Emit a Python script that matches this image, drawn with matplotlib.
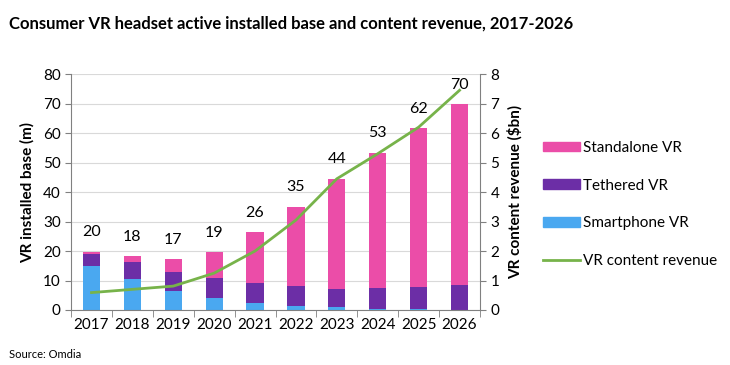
import matplotlib.pyplot as plt
import numpy as np
from matplotlib.patches import Patch
from matplotlib.lines import Line2D

plt.rcParams['font.family'] = ['Lato', 'DejaVu Sans']

years = ['2017', '2018', '2019', '2020', '2021', '2022', '2023', '2024', '2025', '2026']
smartphone = [15.0, 10.5, 6.5, 4.0, 2.5, 1.5, 1.0, 0.4, 0.3, 0.1]
tethered = [4.0, 5.8, 6.5, 7.0, 6.5, 6.5, 6.2, 7.1, 7.4, 8.4]
standalone = [0.8, 1.9, 4.3, 8.5, 17.3, 27.0, 37.3, 45.8, 54.0, 61.2]
totals = [20, 18, 17, 19, 26, 35, 44, 53, 62, 70]
revenue = [0.59, 0.70, 0.81, 1.25, 2.0, 3.05, 4.45, 5.3, 6.2, 7.45]

c_smart = '#4AA8F0'
c_teth = '#6C2EA6'
c_stand = '#EB4DA8'
c_line = '#77B34A'

fig = plt.figure(figsize=(7.3, 3.65), dpi=100)
ax = fig.add_axes([0.0973, 0.1507, 0.5602, 0.6463])
x = np.arange(len(years))
w = 0.42
ax.bar(x, smartphone, w, color=c_smart, zorder=2)
ax.bar(x, tethered, w, bottom=smartphone, color=c_teth, zorder=2)
bot2 = np.array(smartphone) + np.array(tethered)
ax.bar(x, standalone, w, bottom=bot2, color=c_stand, zorder=2)

for xi, top, t in zip(x, bot2 + np.array(standalone), totals):
    ax.annotate(str(t), (xi, top), xytext=(0, 14), textcoords='offset points',
                ha='center', va='center', fontsize=11.5)

ax.set_xlim(-0.5, len(years) - 0.5)
ax.set_ylim(0, 80)
ax.set_yticks(range(0, 81, 10))
ax.set_xticks(x)
ax.set_xticklabels(years, fontsize=11)
ax.set_xticks(np.arange(-0.5, len(years), 1), minor=True)
ax.tick_params(axis='x', which='major', length=0, pad=6)
ax.tick_params(axis='x', which='minor', length=5, color='#808080')
ax.tick_params(axis='y', labelsize=11, length=4, color='#808080')
ax.yaxis.grid(True, color='#D9D9D9', lw=0.8, zorder=0)
for s in ['top', 'right']:
    ax.spines[s].set_visible(False)
for s in ['left', 'bottom']:
    ax.spines[s].set_color('#808080')
ax.set_ylabel('VR installed base (m)', fontsize=11, fontweight='bold', labelpad=6)

ax2 = ax.twinx()
ax2.plot(x, revenue, color=c_line, lw=2, zorder=3)
ax2.set_ylim(0, 8)
ax2.set_yticks(range(0, 9))
ax2.tick_params(axis='y', labelsize=11, length=4, color='#808080')
for s in ['top', 'left', 'bottom']:
    ax2.spines[s].set_visible(False)
ax2.spines['right'].set_color('#808080')
ax2.set_ylabel('VR content revenue ($bn)', fontsize=11, fontweight='bold', labelpad=6)

handles = [Patch(color=c_stand, label='Standalone VR'),
           Patch(color=c_teth, label='Tethered VR'),
           Patch(color=c_smart, label='Smartphone VR'),
           Line2D([], [], color=c_line, lw=2, label='VR content revenue')]
fig.legend(handles=handles, loc='center left', bbox_to_anchor=(0.725, 0.44),
           frameon=False, fontsize=11, handlelength=2.4, handleheight=0.6,
           labelspacing=1.55, handletextpad=0.2)

fig.text(0.012, 0.935, 'Consumer VR headset active installed base and content revenue, 2017-2026',
         fontsize=12, fontweight='bold', va='center')
fig.text(0.012, 0.03, 'Source: Omdia', fontsize=8, va='center')

fig.savefig('out.png', dpi=100)
